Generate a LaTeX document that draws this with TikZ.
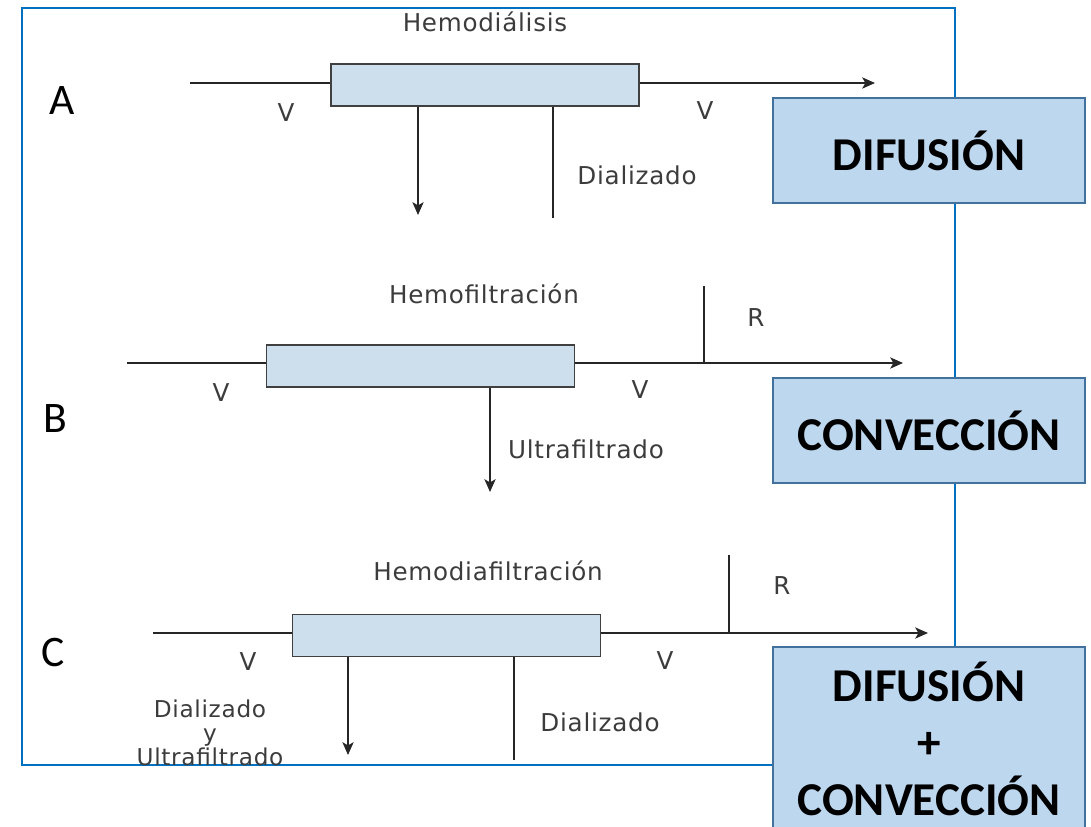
\documentclass[tikz,border=0pt]{standalone}
\usepackage{fontspec}
\setmainfont{Carlito}
\newfontfamily\lblfont[LetterSpace=3]{DejaVu Sans}
\usepackage{xcolor}
\usepackage{tikz}
\usetikzlibrary{arrows.meta}

\definecolor{marco}{RGB}{0,112,192}
\definecolor{relleno}{RGB}{205,222,237}
\definecolor{cajafill}{RGB}{189,215,238}
\definecolor{cajaborde}{RGB}{65,113,156}
\definecolor{texto}{RGB}{60,60,60}

\begin{document}
\begin{tikzpicture}[x=0.25mm, y=-0.25mm,
  >={Stealth[length=3.2mm, width=2.8mm, inset=0.8mm]},
  filtro/.style={draw=black!75, fill=relleno, line width=0.4mm,
    minimum width=77mm, minimum height=10.5mm, inner sep=0pt},
  flujo/.style={line width=0.38mm, black!85},
  etiq/.style={font=\lblfont\fontsize{17.5}{13.5}\selectfont, text=texto, inner sep=0pt},
  letra/.style={font=\fontsize{31}{31}\selectfont, inner sep=0pt},
  tipo/.style={draw=cajaborde, fill=cajafill, line width=0.5mm, align=center,
    font=\bfseries\fontsize{33.5}{40.5}\selectfont, minimum width=78mm, inner sep=0pt}]
  \useasboundingbox (0,0) rectangle (1091,826);

  % marco exterior
  \draw[marco, line width=0.6mm] (22,8) rectangle (955,765);

  % A: hemodialisis
  \node[filtro] (fa) at (485,85) {};
  \coordinate (aent) at (190,83);
  \coordinate (asal) at (875,83);
  \coordinate (abaj1) at (418,215);
  \coordinate (abaj2) at (553,218);
  \draw[flujo] (aent) -- (aent -| fa.west);
  \draw[flujo,->] (asal -| fa.east) -- (asal);
  \draw[flujo,->] (fa.south -| abaj1) -- (abaj1);
  \draw[flujo] (fa.south -| abaj2) -- (abaj2);
  \node[etiq] (ta) at (485,22) {Hemodiálisis};
  \node[etiq] (va1) at (286,113) {V};
  \node[etiq] (va2) at (705,111) {V};
  \node[etiq] (da) at (637,175) {Dializado};
  \node[letra] (la) at (62,101) {A};

  % B: hemofiltracion
  \node[filtro] (fb) at (420.5,366) {};
  \coordinate (bent) at (127,363);
  \coordinate (bsal) at (903,363);
  \coordinate (bR) at (704,286);
  \coordinate (bbaj) at (490,492);
  \draw[flujo] (bent) -- (bent -| fb.west);
  \draw[flujo,->] (bsal -| fb.east) -- (bsal);
  \draw[flujo] (bR) -- (bR |- bsal);
  \draw[flujo,->] (fb.south -| bbaj) -- (bbaj);
  \node[etiq] (tb) at (484,294) {Hemofiltración};
  \node[etiq] (rb) at (756,318) {R};
  \node[etiq] (vb1) at (221,393) {V};
  \node[etiq] (vb2) at (640,390) {V};
  \node[etiq] (ub) at (586,449) {Ultrafiltrado};
  \node[letra] (lb) at (55,419) {B};

  % C: hemodiafiltracion
  \node[filtro] (fc) at (446.5,635.5) {};
  \coordinate (cent) at (153,633);
  \coordinate (csal) at (928,633);
  \coordinate (cR) at (729,555);
  \coordinate (cbaj1) at (348,755);
  \coordinate (cbaj2) at (514,760);
  \draw[flujo] (cent) -- (cent -| fc.west);
  \draw[flujo,->] (csal -| fc.east) -- (csal);
  \draw[flujo] (cR) -- (cR |- csal);
  \draw[flujo,->] (fc.south -| cbaj1) -- (cbaj1);
  \draw[flujo] (fc.south -| cbaj2) -- (cbaj2);
  \node[etiq] (tc) at (488,571) {Hemodiafiltración};
  \node[etiq] (rc) at (782,586) {R};
  \node[etiq] (vc1) at (248,662) {V};
  \node[etiq] (vc2) at (665,661) {V};
  \node[etiq] (dc) at (600,722) {Dializado};
  \node[etiq, align=center, font=\lblfont\fontsize{16.5}{13}\selectfont] (duc) at (210,733) {Dializado\\[4pt]y\\Ultrafiltrado};
  \node[letra] (lc) at (53,652) {C};

  % cajas de mecanismo
  \node[tipo, minimum height=26.25mm] (kdif) at (929,150.5) {DIFUSIÓN};
  \node[tipo, minimum height=26.25mm] (kconv) at (929,430.5) {CONVECCIÓN};
  \node[tipo, minimum height=45.75mm] (kamb) at (929,738.5) {DIFUSIÓN\\+\\CONVECCIÓN};
\end{tikzpicture}
\end{document}
